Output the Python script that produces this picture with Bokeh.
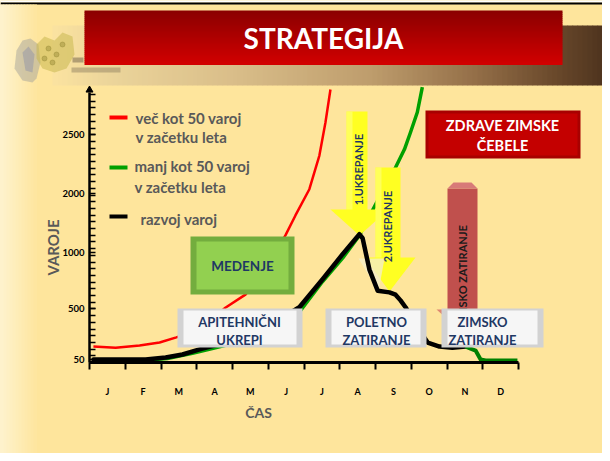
import math
from bokeh.plotting import figure
from bokeh.models import Range1d, LinearAxis, FixedTicker
from bokeh.embed import file_html
from bokeh.resources import INLINE
from bokeh.core.properties import value

# ---------------- data ----------------
# x: month position (0 = start of January, 12 = end of December)
# y: position on the chart's (non-linear) varoj scale
months = ["J", "F", "M", "A", "M", "J", "J", "A", "S", "O", "N", "D"]
y_tick_labels = ["50", "500", "1000", "2000", "2500"]
y_tick_pos = [0.053, 0.947, 1.93, 2.965, 4.0]

red_x = [0.11, 0.73, 1.40, 1.96, 2.43, 2.88, 3.30, 3.80, 4.36, 4.92, 5.48, 5.76, 6.15, 6.43, 6.60, 6.74]
red_y = [0.28, 0.26, 0.30, 0.35, 0.44, 0.54, 0.70, 0.96, 1.19, 1.63, 2.23, 2.58, 3.04, 3.63, 4.21, 4.79]

green_x = [0.11, 1.48, 2.18, 2.88, 3.52, 3.92, 5.90, 6.52, 7.08, 7.55, 8.06, 8.56, 8.81, 8.98, 9.17, 9.31]
green_y = [0.035, 0.035, 0.07, 0.16, 0.26, 0.32, 0.91, 1.42, 1.83, 2.23, 2.84, 3.42, 3.74, 4.04, 4.39, 4.83]

black_x = [0.11, 1.57, 2.13, 2.60, 3.08, 3.52, 3.92, 4.56, 5.26, 5.87, 6.52, 7.08, 7.55, 7.64, 7.83,
           8.06, 8.39, 8.56, 8.70, 8.84, 9.18, 9.46, 9.79, 10.15, 10.52]
black_y = [0.053, 0.053, 0.088, 0.14, 0.23, 0.30, 0.39, 0.53, 0.74, 0.97, 1.46, 1.90, 2.25, 2.18, 1.63,
           1.26, 1.23, 1.19, 1.09, 0.97, 0.61, 0.35, 0.28, 0.26, 0.28]

tail_x = [10.52, 10.80, 10.94, 11.08, 11.97]
tail_y = [0.28, 0.21, 0.053, 0.035, 0.035]

legend_labels = [["več kot 50 varoj", "v začetku leta"], ["manj kot 50 varoj", "v začetku leta"], ["razvoj varoj"]]

# ---------------- layout ----------------
W, H = 602, 453
IMG_L, IMG_R, IMG_T, IMG_B = 8, 610, 8, 461
X0, XS = 97.0, 35.75      # pixel of month 0, pixels per month
Y0, YS = 370.0, 57.0      # pixel of scale 0, pixels per scale unit

BG = "#FEE59C"
NAVY = "#1F3864"
GRAY = "#595959"
FONT = "Lato"
UP = math.pi / 2          # text reading bottom-to-top

p = figure(width=W, height=H, output_backend="svg", toolbar_location=None,
           x_range=Range1d((IMG_L - X0) / XS, (IMG_R - X0) / XS),
           y_range=Range1d((Y0 - IMG_B) / YS, (Y0 - IMG_T) / YS),
           x_axis_type=None, y_axis_type=None, min_border=0)
p.title.visible = False
p.outline_line_color = None
p.background_fill_color = BG
p.border_fill_color = BG
p.extra_x_ranges = {"px": Range1d(IMG_L, IMG_R)}
p.extra_y_ranges = {"py": Range1d(IMG_B, IMG_T)}
PX = dict(x_range_name="px", y_range_name="py")


def hx(c):
    return [int(c[i:i + 2], 16) for i in (1, 3, 5)]


def grad(stops, t):
    for (p0, c0), (p1, c1) in zip(stops[:-1], stops[1:]):
        if p0 <= t <= p1:
            f = (t - p0) / (p1 - p0) if p1 > p0 else 0
            a, b = hx(c0), hx(c1)
            return "#%02x%02x%02x" % tuple(round(a[k] + (b[k] - a[k]) * f) for k in range(3))
    return stops[-1][1]


def box(x0, x1, y0, y1, color, alpha=1.0):
    p.quad(left=x0, right=x1, top=y0, bottom=y1, fill_color=color, fill_alpha=alpha,
           line_color=None, **PX)


def txt(x, y, s, size, color, angle=0.0, align="center", style="bold"):
    p.text(x=[x], y=[y], text=[s], text_font=value(FONT), text_font_size=f"{size}px",
           text_font_style=style, text_color=color, angle=angle, text_align=align,
           text_baseline="middle", **PX)


# slide frame
box(IMG_L, IMG_R, 8, 10, "white")
p.segment(x0=[IMG_L], y0=[11], x1=[IMG_R], y1=[11], line_color="black", line_width=2, **PX)
# lighter left edge
lx = list(range(8, 44, 3))
p.quad(left=lx, right=[v + 3.5 for v in lx], top=[12] * len(lx), bottom=[IMG_B] * len(lx),
       fill_color=[grad([(8, "#FEF2CC"), (44, BG)], v) for v in lx], line_color=None, **PX)

# header band gradient
band_stops = [(60, "#FBE3A0"), (120, "#EBD49A"), (250, "#D8BC88"), (380, "#BD9C6C"),
              (480, "#957049"), (560, "#6B4A2C"), (610, "#4F341E")]
bx = list(range(60, 610, 5))
p.quad(left=bx, right=[v + 5.6 for v in bx], top=[33] * len(bx), bottom=[93] * len(bx),
       fill_color=[grad(band_stops, v + 2.5) for v in bx], line_color=None, **PX)

# logo (approximate, faint)
p.patch(x=[24, 30, 38, 46, 48, 44, 40, 30, 22], y=[58, 48, 46, 52, 70, 86, 90, 88, 76],
        fill_color="#9C9C98", fill_alpha=0.45, line_color=None, **PX)
p.patch(x=[30, 36, 42, 40, 33], y=[60, 54, 62, 80, 78],
        fill_color="#8A8FA8", fill_alpha=0.45, line_color=None, **PX)
p.patch(x=[44, 52, 62, 70, 80, 82, 74, 62, 50, 44], y=[52, 44, 48, 40, 44, 62, 76, 80, 76, 66],
        fill_color="#C8B850", fill_alpha=0.55, line_color=None, **PX)
p.scatter(x=[56, 64, 70, 60, 52], y=[56, 62, 52, 70, 66], size=5, color="#9A8C38", alpha=0.45, **PX)
box(79, 128, 75, 80, "#9A8A68", 0.55)
box(80, 91, 65, 70, "#7A6A50", 0.55)

# title bar
ty = [18 + 2 * i for i in range(27)]
p.quad(left=[92] * len(ty), right=[570] * len(ty), top=ty, bottom=[v + 2.5 for v in ty],
       fill_color=[grad([(18, "#8A0000"), (72, "#D20000")], v + 1) for v in ty], line_color=None, **PX)
txt(331, 45, "STRATEGIJA", 28, "white")

# ---------------- axes ----------------
xaxis = LinearAxis(fixed_location=0.0, bounds=(0, 12),
                   ticker=FixedTicker(ticks=[i + 0.5 for i in range(12)], minor_ticks=list(range(13))),
                   major_label_overrides={i + 0.5: m for i, m in enumerate(months)})
xaxis.axis_line_width = 3
xaxis.axis_line_color = "black"
xaxis.major_tick_in = 0
xaxis.major_tick_out = 0
xaxis.major_tick_line_color = None
xaxis.minor_tick_in = 0
xaxis.minor_tick_out = 7
xaxis.minor_tick_line_width = 2
xaxis.minor_tick_line_color = "black"
xaxis.major_label_standoff = 16
xaxis.major_label_text_font = FONT
xaxis.major_label_text_font_size = "9px"
xaxis.major_label_text_font_style = "bold"
xaxis.major_label_text_color = "black"
p.add_layout(xaxis, "below")

yaxis = LinearAxis(fixed_location=0.0, bounds=(0, 4.74),
                   ticker=FixedTicker(ticks=y_tick_pos, minor_ticks=[round(i * 0.1175, 4) for i in range(41)]),
                   major_label_overrides=dict(zip(y_tick_pos, y_tick_labels)))
yaxis.axis_line_width = 2.5
yaxis.axis_line_color = "black"
yaxis.major_tick_in = 6
yaxis.major_tick_out = 0
yaxis.major_tick_line_width = 1.5
yaxis.minor_tick_in = 6
yaxis.minor_tick_out = 0
yaxis.minor_tick_line_width = 1.5
yaxis.minor_tick_line_color = "black"
yaxis.major_label_standoff = 5
yaxis.major_label_text_font = FONT
yaxis.major_label_text_font_size = "9.5px"
yaxis.major_label_text_font_style = "bold"
yaxis.major_label_text_color = "black"
p.add_layout(yaxis, "left")
p.scatter(x=[0], y=[4.78], marker="triangle", size=7, color="black")

txt(60.5, 255, "VAROJE", 15, GRAY, angle=UP)
txt(266, 420, "ČAS", 14, GRAY)

# ---------------- curves ----------------
p.line(red_x, red_y, line_color="#FF0000", line_width=2.5, line_join="round")
p.line(green_x, green_y, line_color="#00A000", line_width=3.5, line_join="round")

# yellow arrows
box(354, 375, 119, 218, "#FFFF22")
box(354, 360, 119, 218, "#FFFF80", 0.6)
p.patch(x=[338, 396, 367], y=[217, 217, 243], fill_color="#FFFF22", line_color=None, **PX)
txt(366, 177, "1.UKREPANJE", 11, NAVY, angle=UP)
box(383, 408, 175, 266, "#FFFF22")
box(383, 389, 175, 266, "#FFFF80", 0.6)
p.patch(x=[372, 423, 397], y=[265, 265, 299], fill_color="#FFFF22", line_color=None, **PX)
p.patch(x=[366, 392, 386], y=[266, 266, 299], fill_color="#F4EEC8", fill_alpha=0.8, line_color=None, **PX)
txt(395, 234, "2.UKREPANJE", 11, NAVY, angle=UP)

p.line(black_x, black_y, line_color="black", line_width=4.5, line_join="round", line_cap="round")
p.line(tail_x, tail_y, line_color="#008000", line_width=4, line_join="round")

# ---------------- legend ----------------
leg_colors = ["#FF0000", "#00A000", "black"]
leg_y = [125, 175, 224]
leg_text_y = [[125, 144], [173, 194], [226]]
leg_text_x = [143, 142, 148]
for c, yy, lines, ly, lx0 in zip(leg_colors, leg_y, legend_labels, leg_text_y, leg_text_x):
    p.segment(x0=[117], y0=[yy], x1=[135], y1=[yy], line_color=c, line_width=4, **PX)
    for s, y in zip(lines, ly):
        txt(lx0, y, s, 15, GRAY, align="left")

# ---------------- boxes ----------------
# MEDENJE
box(198, 302, 244, 302, "#73AD3E")
box(204, 296, 249, 297, "#92D050")
txt(250, 273, "MEDENJE", 13.5, NAVY)

# ZIMSKO ZATIRANJE vertical arrow
p.patch(x=[444, 496, 470], y=[317, 317, 340], fill_color="#D06060", fill_alpha=0.7, line_color=None, **PX)
box(455, 485, 196, 318, "#C0504D")
p.patch(x=[455, 461, 479, 485], y=[196, 190, 190, 196], fill_color="#D87A78", line_color=None, **PX)
txt(470, 284, "ZIMSKO ZATIRANJE", 11, "#1A1A1A", angle=UP)

# ZDRAVE ZIMSKE ČEBELE
box(433, 588, 118, 166, "#A80000")
box(436, 585, 121, 163, "#C40000")
txt(510, 133, "ZDRAVE ZIMSKE", 14.5, "white")
txt(510, 153, "ČEBELE", 14.5, "white")

# white bevel boxes
for (x0, x1, tx, l1, l2) in [(185, 310, 247, "APITEHNIČNI", "UKREPI"),
                              (333, 434, 384, "POLETNO", "ZATIRANJE"),
                              (449, 551, 490, "ZIMSKO", "ZATIRANJE")]:
    box(x0, x1, 316, 355, "#D2D2D2")
    box(x0 + 6, x1 - 6, 318, 352, "#F6F6F6")
    txt(tx, 329, l1, 13, NAVY)
    txt(tx, 347, l2, 13, NAVY)

open("out.html", "w").write(file_html(p, INLINE))
